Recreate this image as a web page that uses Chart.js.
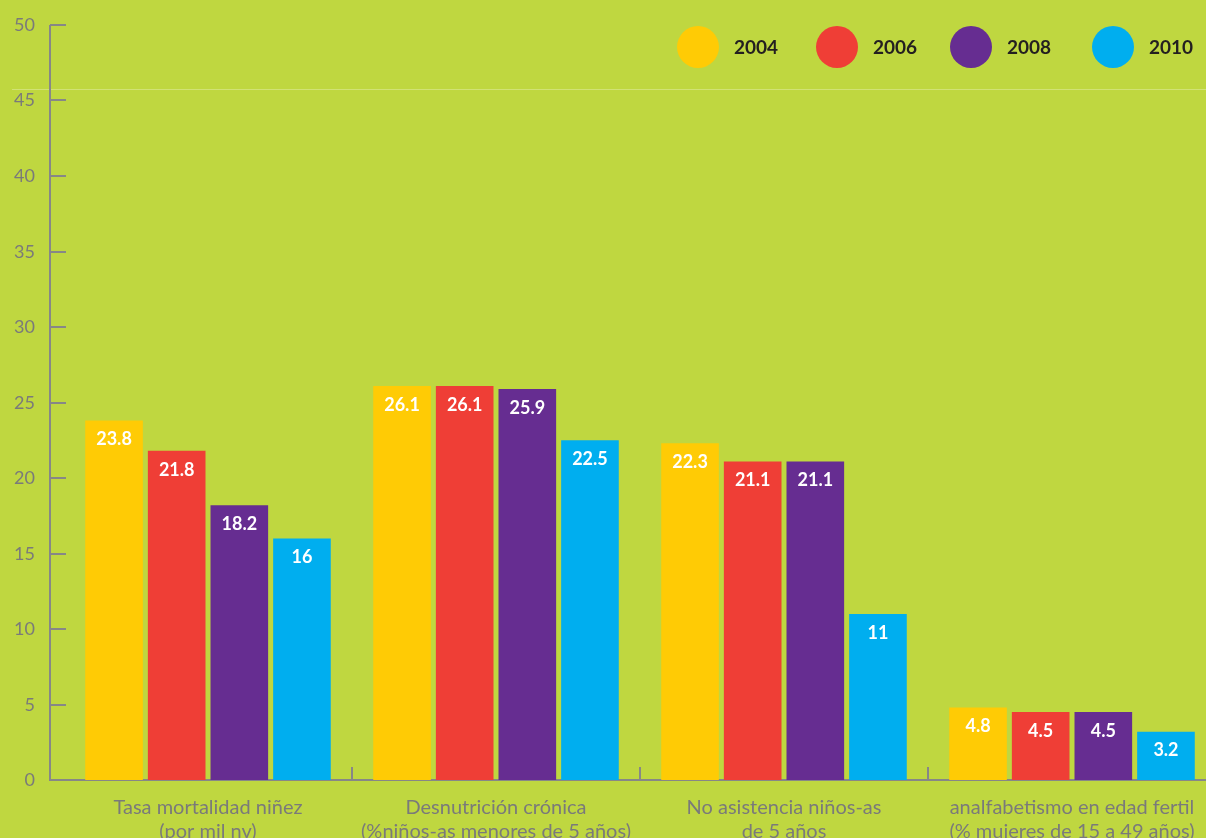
<!DOCTYPE html>
<html lang="es">
<head>
    <meta charset="UTF-8">
    <title>Indicadores 2004 - 2010</title>
    <script src="https://cdn.jsdelivr.net/npm/chart.js"></script>
    <style>
        html, body {
            margin: 0;
            padding: 0;
            overflow: hidden;
            background: #bfd740;
        }
        #wrap {
            position: relative;
            width: 1216px;
            height: 838px;
        }
    </style>
</head>
<body>
    <div id="wrap">
        <canvas id="indicadores" width="1216" height="838"></canvas>
    </div>

    <script>
        // Datos
        const categories = [
            ['Tasa mortalidad niñez', '(por mil nv)'],
            ['Desnutrición crónica', '(%niños-as menores de 5 años)'],
            ['No asistencia niños-as', 'de 5 años'],
            ['analfabetismo en edad fertil', '(% mujeres de 15 a 49 años)']
        ];
        const years = ['2004', '2006', '2008', '2010'];
        const values2004 = [23.8, 26.1, 22.3, 4.8];
        const values2006 = [21.8, 26.1, 21.1, 4.5];
        const values2008 = [18.2, 25.9, 21.1, 4.5];
        const values2010 = [16, 22.5, 11, 3.2];
        const yMin = 0, yMax = 50, yStep = 5;

        const colors = ['#ffcb05', '#ef3e36', '#662d91', '#00aeef'];
        const axisColor = '#878787';
        const textGrey = '#7a7a7a';
        const fontFamily = 'Lato, "Open Sans", sans-serif';

        const series = [values2004, values2006, values2008, values2010];

        function createDataset(data, color, label) {
            return {
                label: label,
                data: data,
                backgroundColor: color,
                borderWidth: 0,
                categoryPercentage: 0.87,
                barPercentage: 0.92
            };
        }

        // Fondo + linea clara horizontal
        const backgroundPlugin = {
            id: 'background',
            beforeDraw(chart) {
                const ctx = chart.ctx;
                ctx.save();
                ctx.fillStyle = '#bfd740';
                ctx.fillRect(0, 0, chart.width, chart.height);
                ctx.strokeStyle = 'rgba(255,255,255,0.28)';
                ctx.lineWidth = 1;
                ctx.beginPath();
                ctx.moveTo(12, 89.5);
                ctx.lineTo(chart.width, 89.5);
                ctx.stroke();
                ctx.restore();
            }
        };

        // Ejes: linea vertical separada del area, marcas hacia adentro
        const axesPlugin = {
            id: 'axesLines',
            beforeDatasetsDraw(chart) {
                const ctx = chart.ctx;
                const x = chart.scales.x;
                const y = chart.scales.y;
                const axisX = 50;
                const top = y.getPixelForValue(yMax);
                const bottom = y.getPixelForValue(yMin);
                ctx.save();
                ctx.strokeStyle = axisColor;
                ctx.lineWidth = 2;
                ctx.beginPath();
                ctx.moveTo(axisX, top);
                ctx.lineTo(axisX, bottom);
                ctx.lineTo(chart.width, bottom);
                ctx.stroke();

                ctx.fillStyle = textGrey;
                ctx.font = '18px ' + fontFamily;
                ctx.textAlign = 'right';
                ctx.textBaseline = 'middle';
                y.ticks.forEach(t => {
                    const py = Math.round(y.getPixelForValue(t.value));
                    ctx.fillText(String(t.value), 35, py);
                    if (t.value === yMin) return;
                    ctx.beginPath();
                    ctx.moveTo(axisX, py);
                    ctx.lineTo(axisX + 16, py);
                    ctx.stroke();
                });

                for (let i = 0; i < categories.length - 1; i++) {
                    const px = Math.round((x.getPixelForValue(i) + x.getPixelForValue(i + 1)) / 2);
                    ctx.beginPath();
                    ctx.moveTo(px, bottom);
                    ctx.lineTo(px, bottom - 13);
                    ctx.stroke();
                }
                ctx.restore();
            }
        };

        // Valores dentro de cada barra
        const valueLabels = {
            id: 'valueLabels',
            afterDatasetsDraw(chart) {
                const ctx = chart.ctx;
                ctx.save();
                ctx.fillStyle = '#ffffff';
                ctx.font = 'bold 18px ' + fontFamily;
                ctx.textAlign = 'center';
                ctx.textBaseline = 'middle';
                chart.data.datasets.forEach((ds, di) => {
                    chart.getDatasetMeta(di).data.forEach((bar, i) => {
                        ctx.fillText(String(ds.data[i]), bar.x, bar.y + 19);
                    });
                });
                ctx.restore();
            }
        };

        // Leyenda con circulos arriba a la derecha
        const circleLegend = {
            id: 'circleLegend',
            afterDraw(chart) {
                const ctx = chart.ctx;
                const centers = [698, 837, 971, 1113];
                const cy = 47;
                ctx.save();
                ctx.font = 'bold 19px ' + fontFamily;
                ctx.textBaseline = 'middle';
                ctx.textAlign = 'left';
                chart.data.datasets.forEach((ds, i) => {
                    ctx.fillStyle = ds.backgroundColor;
                    ctx.beginPath();
                    ctx.arc(centers[i], cy, 21, 0, Math.PI * 2);
                    ctx.fill();
                    ctx.fillStyle = '#231f20';
                    ctx.fillText(ds.label, centers[i] + 36, cy + 1);
                });
                ctx.restore();
            }
        };

        const ctx = document.getElementById('indicadores').getContext('2d');
        const chart = new Chart(ctx, {
            type: 'bar',
            data: {
                labels: categories,
                datasets: series.map((s, i) => createDataset(s, colors[i], years[i]))
            },
            options: {
                responsive: false,
                animation: false,
                layout: {
                    padding: { top: 25, right: 0, bottom: 0, left: 0 }
                },
                scales: {
                    x: {
                        grid: { display: false, drawTicks: false },
                        border: { display: false },
                        ticks: {
                            color: textGrey,
                            font: { family: fontFamily, size: 20 },
                            padding: 16,
                            maxRotation: 0,
                            autoSkip: false
                        },
                        afterFit(scale) {
                            scale.height = 58;
                        }
                    },
                    y: {
                        min: yMin,
                        max: yMax,
                        grid: { display: false, drawTicks: false },
                        border: { display: false },
                        ticks: {
                            stepSize: yStep,
                            display: false
                        },
                        afterFit(scale) {
                            scale.width = 64;
                        }
                    }
                },
                plugins: {
                    legend: { display: false },
                    tooltip: { enabled: false }
                }
            },
            plugins: [backgroundPlugin, axesPlugin, valueLabels, circleLegend]
        });
    </script>
</body>
</html>
